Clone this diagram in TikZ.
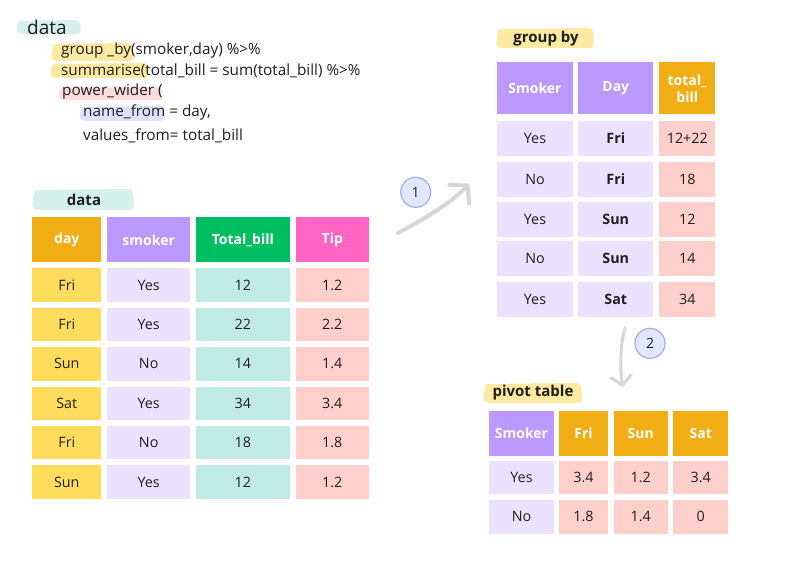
\documentclass[tikz,border=0pt]{standalone}
\usepackage{fontspec}
\setmainfont{Open Sans}
\usetikzlibrary{arrows.meta}
\definecolor{txt}{HTML}{1E1E1E}
\definecolor{orH}{HTML}{F0AE14}
\definecolor{dayL}{HTML}{FFDC5B}
\definecolor{puH}{HTML}{BB99FF}
\definecolor{puL}{HTML}{EBE2FF}
\definecolor{grH}{HTML}{00BF63}
\definecolor{grL}{HTML}{C0EBE4}
\definecolor{piH}{HTML}{FF66C4}
\definecolor{piL}{HTML}{FFD0CB}
\definecolor{hlY}{HTML}{FCE9A2}
\definecolor{hlT}{HTML}{D6F0EC}
\definecolor{hlP}{HTML}{FDDCDC}
\definecolor{hlB}{HTML}{DDE3FA}
\definecolor{circF}{HTML}{E1E7FD}
\definecolor{circD}{HTML}{9DB0F5}
\definecolor{arrC}{HTML}{D6D6D6}
\newcommand\hlbar[5]{\fill[#1, rounded corners=3pt] (#2,#3+1) -- (#4-3,#3) -- (#4,#3+2) -- (#4+1,#5-2) -- (#4-2,#5) -- (#2+2,#5) -- (#2-2,#5-3) -- (#2,#3+4) -- cycle;}
\tikzset{
  cell/.style={inner sep=0pt, text=txt, font=\fontsize{14.3}{16}\selectfont},
  bcell/.style={cell, font=\fontsize{14.3}{16}\selectfont\bfseries},
  hcell/.style={inner sep=0pt, text=white, align=center, font=\fontsize{14}{17}\selectfont\bfseries},
  codetext/.style={anchor=west, inner sep=0pt, text=txt, font=\fontsize{15.3}{18}\selectfont},
  title/.style={inner sep=0pt, text=txt, font=\fontsize{15}{18}\selectfont\bfseries},
  stepcirc/.style={circle, draw=circD, line width=1.2pt, fill=circF, minimum size=30pt, inner sep=0pt, text=txt, font=\fontsize{14}{16}\selectfont},
  flow/.style={draw=arrC, line cap=round}
}
\begin{document}
\begin{tikzpicture}[x=1pt,y=-1pt]
\useasboundingbox (0,0) rectangle (800,567);
\fill[white] (0,0) rectangle (800,567);

% ---- code block ----
\hlbar{hlT}{18}{20}{80}{34}
\node[anchor=west, inner sep=0pt, text=txt, font=\fontsize{19}{22}\selectfont] (top) at (27,27) {data};
\hlbar{hlY}{53}{43}{133}{61}
\hlbar{hlY}{52}{63}{148}{78}
\hlbar{hlP}{60}{87}{162}{100}
\hlbar{hlB}{81}{106}{164}{121}
\node[codetext] (c1) at (61,51) {group \_by(smoker,day) \%>\%};
\node[codetext] (c2) at (61,71) {summarise(total\_bill = sum(total\_bill) \%>\%};
\node[codetext] (c3) at (62,92) {power\_wider (};
\node[codetext] (c4) at (83,112) {name\_from = day,};
\node[codetext] (c5) at (83,136) {values\_from= total\_bill};

% ---- data table ----
\hlbar{hlT}{34}{189}{133}{210}
\node[title] (dtitle) at (84,200) {data};
\node[hcell, fill=orH, minimum width=69pt, minimum height=45pt] (dh1) at (66.8,239.8) {day};
\node[hcell, fill=puH, minimum width=82.7pt, minimum height=45pt] (dh2) at (148.7,239.8) {smoker};
\node[hcell, fill=grH, minimum width=94.3pt, minimum height=45pt] (dh3) at (242.8,239.8) {Total\_bill};
\node[hcell, fill=piH, minimum width=72.7pt, minimum height=45pt] (dh4) at (332.3,239.8) {Tip};
\foreach \a/\b/\cc/\d [count=\r] in {Fri/Yes/12/1.2, Fri/Yes/22/2.2, Sun/No/14/1.4, Sat/Yes/34/3.4, Fri/No/18/1.8, Sun/Yes/12/1.2}{
  \pgfmathsetmacro\yy{285+(\r-1)*39.4}
  \node[cell, fill=dayL, minimum width=69pt, minimum height=33.4pt] (d\r-1) at (66.8,\yy) {\a};
  \node[cell, fill=puL, minimum width=82.7pt, minimum height=33.4pt] (d\r-2) at (148.7,\yy) {\b};
  \node[cell, fill=grL, minimum width=94.3pt, minimum height=33.4pt] (d\r-3) at (242.8,\yy) {\cc};
  \node[cell, fill=piL, minimum width=72.7pt, minimum height=33.4pt] (d\r-4) at (332.3,\yy) {\d};
}

% ---- group by table ----
\hlbar{hlY}{498}{28}{593}{48}
\node[title] (gtitle) at (546,39) {group by};
\node[hcell, fill=puH, minimum width=75.4pt, minimum height=52pt] (gh1) at (535,88.3) {Smoker};
\node[hcell, fill=puH, minimum width=75pt, minimum height=52pt] (gh2) at (615.8,88.3) {Day};
\node[hcell, fill=orH, minimum width=56pt, minimum height=52pt] (gh3) at (687.3,88.3) {total\_\\bill};
\foreach \a/\b/\cc/\yy [count=\r] in {Yes/Fri/12+22/138.5, No/Fri/18/179.3, Yes/Sun/12/219, No/Sun/14/258.5, Yes/Sat/34/299.5}{
  \node[cell, fill=puL, minimum width=75.4pt, minimum height=35pt] (g\r-1) at (535,\yy) {\a};
  \node[bcell, fill=puL, minimum width=75pt, minimum height=35pt] (g\r-2) at (615.8,\yy) {\b};
  \node[cell, fill=piL, minimum width=56pt, minimum height=35pt] (g\r-3) at (687.3,\yy) {\cc};
}

% ---- pivot table ----
\hlbar{hlY}{485}{383}{581}{403}
\node[title] (ptitle) at (533,393) {pivot table};
\node[hcell, fill=puH, minimum width=65pt, minimum height=44.7pt] (ph1) at (521.5,433.3) {Smoker};
\node[hcell, fill=orH, minimum width=48.4pt, minimum height=44.7pt] (ph2) at (583.5,433.3) {Fri};
\node[hcell, fill=orH, minimum width=54pt, minimum height=44.7pt] (ph3) at (640.7,433.3) {Sun};
\node[hcell, fill=orH, minimum width=55pt, minimum height=44.7pt] (ph4) at (700.8,433.3) {Sat};
\foreach \a/\b/\cc/\d/\yy/\hh [count=\r] in {Yes/3.4/1.2/3.4/477.5/33, No/1.8/1.4/0/516.8/34}{
  \node[cell, fill=puL, minimum width=65pt, minimum height=\hh pt] (p\r-1) at (521.5,\yy) {\a};
  \node[cell, fill=piL, minimum width=48.4pt, minimum height=\hh pt] (p\r-2) at (583.5,\yy) {\b};
  \node[cell, fill=piL, minimum width=54pt, minimum height=\hh pt] (p\r-3) at (640.7,\yy) {\cc};
  \node[cell, fill=piL, minimum width=55pt, minimum height=\hh pt] (p\r-4) at (700.8,\yy) {\d};
}

% ---- arrows and step markers ----
\coordinate (a1s) at (398,233);
\coordinate (a1e) at (469,184);
\draw[flow, line width=4pt, -{Straight Barb[length=12pt, width=27pt, round]}] (a1s) .. controls (422,220) and (450,204) .. (a1e);
\node[stepcirc] (s1) at (415.7,192.3) {1};

\coordinate (a2s) at (625,328);
\coordinate (a2e) at (622.7,386.7);
\draw[flow, line width=3pt, -{Straight Barb[length=9pt, width=20pt, round]}] (a2s) .. controls (620,345) and (620,368) .. (a2e);
\node[stepcirc] (s2) at (650,343.3) {2};
\end{tikzpicture}
\end{document}
